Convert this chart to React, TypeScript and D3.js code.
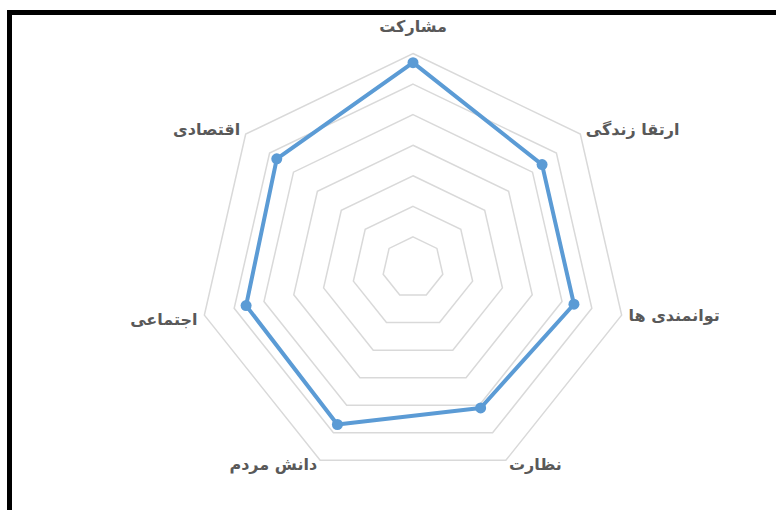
import React from "react";
import * as d3 from "d3";

const categories = ["مشارکت", "ارتقا زندگی", "توانمندی ها", "نظارت", "دانش مردم", "اجتماعی", "اقتصادی"];
const values = [6.7, 5.4, 5.4, 5.1, 5.7, 5.6, 5.7];
const ringTicks = [1, 2, 3, 4, 5, 6, 7];

const W = 776;
const H = 510;
const cx = 413;
const cy = 267.5;
const R = 214;

export default function App() {
  const n = categories.length;
  const r = d3.scaleLinear().domain([0, 7]).range([0, R]);
  const angle = (i: number) => (i * 2 * Math.PI) / n;
  const pt = (i: number, v: number): [number, number] => [
    cx + r(v) * Math.sin(angle(i)),
    cy - r(v) * Math.cos(angle(i)),
  ];
  const closed = d3.line().curve(d3.curveLinearClosed);

  const labels = categories.map((c, i) => {
    const a = angle(i);
    const s = Math.sin(a);
    const co = Math.cos(a);
    const [vx, vy] = pt(i, 7);
    let anchor: "start" | "end" | "middle" = "middle";
    if (s > 0.1) anchor = "start";
    else if (s < -0.1) anchor = "end";
    let x = vx + s * 7;
    let y = vy - co * 6;
    if (i === 0) y = vy - 26;
    if (i === 5) y += 4;
    return { c, x, y, anchor };
  });

  return (
    <svg width={W} height={H} style={{ position: "absolute", left: 0, top: 0, background: "#fff" }}>
      <rect x={0} y={0} width={W} height={H} fill="#fff" />
      <rect x={9.5} y={12.5} width={900} height={700} fill="none" stroke="#000" strokeWidth={5} />
      {ringTicks.map((t) => (
        <path
          key={t}
          d={closed(categories.map((_, i) => pt(i, t))) || ""}
          fill="none"
          stroke="#d9d9d9"
          strokeWidth={1.5}
        />
      ))}
      <path
        d={closed(values.map((v, i) => pt(i, v))) || ""}
        fill="none"
        stroke="#5b9bd5"
        strokeWidth={4}
        strokeLinejoin="round"
      />
      {values.map((v, i) => {
        const [x, y] = pt(i, v);
        return <circle key={i} cx={x} cy={y} r={5.5} fill="#5b9bd5" />;
      })}
      {labels.map((l, i) => (
        <text
          key={i}
          x={l.x}
          y={l.y}
          textAnchor={l.anchor}
          dominantBaseline="middle"
          style={{ fontFamily: "'DejaVu Sans', sans-serif", fontSize: 16, fontWeight: "bold", fill: "#595959" }}
        >
          {l.c}
        </text>
      ))}
    </svg>
  );
}
